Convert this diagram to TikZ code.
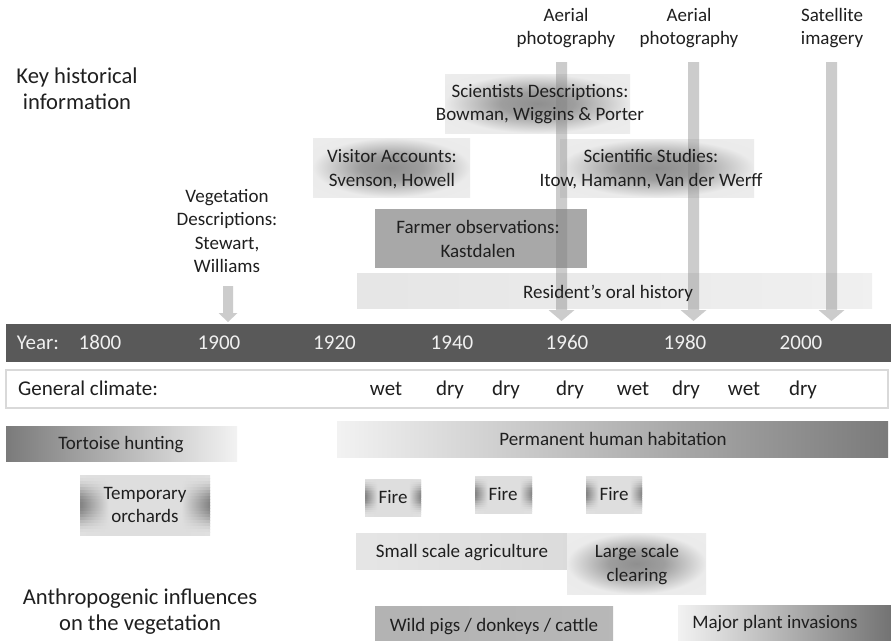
\documentclass[tikz,border=0pt]{standalone}
\usepackage{fontspec}
\setmainfont{Carlito}
\usetikzlibrary{calc}
\pgfdeclareradialshading{glowshade}{\pgfpointorigin}{color(0bp)=(black!44); color(10bp)=(black!38); color(25bp)=(black!8); color(50bp)=(black!6)}
\colorlet{edgec}{black!40}
\pgfdeclarehorizontalshading[edgec]{edgeshade}{100bp}{color(0bp)=(edgec); color(25.5bp)=(edgec); color(36bp)=(black!13); color(64bp)=(black!13); color(74.5bp)=(edgec); color(100bp)=(edgec)}
\newcommand\arrowbar[5]{%
  \fill[barfill] ([xshift=-#3pt]#1) -- ([xshift=#3pt]#1) -- ([xshift=#3pt,yshift=#5pt]#2) -- ([xshift=#4pt,yshift=#5pt]#2) -- (#2) -- ([xshift=-#4pt,yshift=#5pt]#2) -- ([xshift=-#3pt,yshift=#5pt]#2) -- cycle;}
\newcommand\edgebox[4]{%
  \foreach \i in {0,...,19}{%
    \pgfmathsetmacro\ya{#2+(#4-#2)*\i/20}%
    \pgfmathsetmacro\yb{min(#2+(#4-#2)*(\i+1)/20+0.4,#4)}%
    \pgfmathsetmacro\ec{12+36*(sin(180*(\i+0.5)/20))^2}%
    \colorlet{edgec}{black!\ec}%
    \shade[shading=edgeshade] (#1,\ya) rectangle (#3,\yb);
  }}
\tikzset{
  txt/.style={font=\fontsize{19}{23.5}\selectfont, text=black!88, align=center, inner sep=0pt},
  bigtxt/.style={font=\fontsize{22.6}{26}\selectfont, text=black!88, align=center, inner sep=0pt},
  onetxt/.style={txt, anchor=base},
  yr/.style={font=\fontsize{21}{25}\selectfont, text=white!94!black, inner sep=0pt, anchor=base},
  clim/.style={font=\fontsize{21}{25}\selectfont, text=black!88, inner sep=0pt, anchor=base},
  glow/.style={shading=glowshade},
  barfill/.style={fill=black!50, fill opacity=0.4},
}
\begin{document}
\begin{tikzpicture}[x=1pt, y=-1pt]
\useasboundingbox (0,0) rectangle (891,640);
\fill[white] (0,0) rectangle (891,640);

% --- shaded backgrounds, upper part
\shade[glow] (445,74) rectangle (630,133);
\shade[glow] (313,138) rectangle (470,197);
\shade[glow] (560,139) rectangle (754,197);
\fill[black!34] (375,209) rectangle (587,268);
\shade[left color=black!10, middle color=black!36, right color=black!6] (357,273) rectangle (872,308);

% --- arrows
\coordinate (a1s) at (561.5,62);  \coordinate (a1e) at (561.5,321);
\coordinate (a2s) at (693.5,62);  \coordinate (a2e) at (693.5,321);
\coordinate (a3s) at (831.5,62);  \coordinate (a3e) at (831.5,321);
\coordinate (vgs) at (228,286);   \coordinate (vge) at (228,322);
\arrowbar{a1s}{a1e}{5.5}{13}{11}
\arrowbar{a2s}{a2e}{5.5}{13}{11}
\arrowbar{a3s}{a3e}{5.5}{13}{11}
\arrowbar{vgs}{vge}{5}{9.5}{9}

% --- upper texts
\node[bigtxt] (keyhist) at (77,88.5) {Key historical\\information};
\node[txt] (aer1) at (566,28) {Aerial\\photography};
\node[txt] (aer2) at (689,28) {Aerial\\photography};
\node[txt] (sat) at (832,28) {Satellite\\imagery};
\node[txt] (scidesc) at (540,104) {Scientists Descriptions:\\Bowman, Wiggins \& Porter};
\node[txt] (visitor) at (392,169) {Visitor Accounts:\\Svenson, Howell};
\node[txt] (scistud) at (651,169) {Scientific Studies:\\Itow, Hamann, Van der Werff};
\node[txt] (veg) at (227,231) {Vegetation\\Descriptions:\\Stewart,\\Williams};
\node[txt] (farmer) at (478,239) {Farmer observations:\\Kastdalen};
\node[onetxt] (resident) at (608,298) {Resident’s oral history};

% --- timeline
\fill[black!65] (6,324) rectangle (891,362);
\node[yr] (year) at (38,349.5) {Year:};
\node[yr] (y1800) at (100,349.5) {1800};
\node[yr] (y1900) at (219,349.5) {1900};
\node[yr] (y1920) at (334.5,349.5) {1920};
\node[yr] (y1940) at (452,349.5) {1940};
\node[yr] (y1960) at (567,349.5) {1960};
\node[yr] (y1980) at (685,349.5) {1980};
\node[yr] (y2000) at (801,349.5) {2000};

% --- climate
\draw[black!15, line width=1.5pt, fill=white] (6,370) rectangle (888,408);
\node[clim, anchor=base west] (gc) at (18,395.5) {General climate:};
\node[clim] (c1) at (386,395.5) {wet};
\node[clim] (c2) at (450,395.5) {dry};
\node[clim] (c3) at (506,395.5) {dry};
\node[clim] (c4) at (570,395.5) {dry};
\node[clim] (c5) at (633,395.5) {wet};
\node[clim] (c6) at (686,395.5) {dry};
\node[clim] (c7) at (744,395.5) {wet};
\node[clim] (c8) at (803,395.5) {dry};

% --- lower backgrounds
\shade[left color=black!52, right color=black!5] (6,426) rectangle (237,461);
\shade[left color=black!5, right color=black!52] (337,421) rectangle (888,457);
\edgebox{80}{475}{210}{535}
\edgebox{365}{479}{421}{516}
\edgebox{475}{476}{532}{513}
\edgebox{586}{476}{642}{513}
\shade[left color=black!10, middle color=black!30, right color=black!14] (356,533) rectangle (567,569);
\shade[glow] (567,533) rectangle (706,594);
\shade[left color=black!30, middle color=black!12, right color=black!28] (375,606) rectangle (613,640);
\shade[left color=black!5, right color=black!55] (678,605) rectangle (891,640);

% --- lower texts
\node[onetxt] (tortoise) at (121,449) {Tortoise hunting};
\node[onetxt] (perm) at (613,445) {Permanent human habitation};
\node[txt] (orch) at (145,505) {Temporary\\orchards};
\node[onetxt] (fire1) at (393,503) {Fire};
\node[onetxt] (fire2) at (503,500) {Fire};
\node[onetxt] (fire3) at (614,500) {Fire};
\node[onetxt] (small) at (462,557) {Small scale agriculture};
\node[txt] (large) at (637,564.5) {Large scale\\clearing};
\node[onetxt] (pigs) at (494,631) {Wild pigs / donkeys / cattle};
\node[onetxt] (major) at (775,628) {Major plant invasions};
\node[bigtxt] (anthro) at (140,611.5) {Anthropogenic influences\\on the vegetation};
\end{tikzpicture}
\end{document}
